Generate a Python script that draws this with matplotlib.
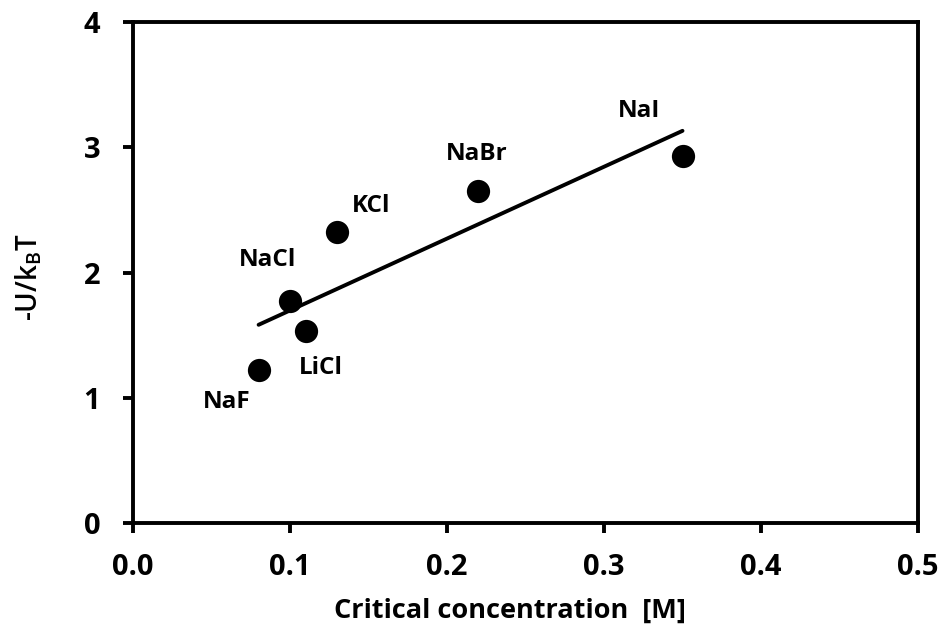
import numpy as np
import matplotlib
matplotlib.use("Agg")
import matplotlib.pyplot as plt

plt.rcParams['font.family'] = ['Open Sans', 'DejaVu Sans']

# Data
salts = ["NaF", "NaCl", "LiCl", "KCl", "NaBr", "NaI"]
conc = [0.08, 0.10, 0.11, 0.13, 0.22, 0.35]
energy = [1.22, 1.77, 1.53, 2.32, 2.65, 2.93]
x_ticks = [0.0, 0.1, 0.2, 0.3, 0.4, 0.5]
x_tick_labels = ["0.0", "0.1", "0.2", "0.3", "0.4", "0.5"]
y_ticks = [0, 1, 2, 3, 4]
y_tick_labels = ["0", "1", "2", "3", "4"]

# label offsets in pixels (dx, dy), up positive
label_offsets = [(-32, -32), (-22, 41), (15, -37), (34, 26), (-2, 37), (-43, 45)]

fig = plt.figure(figsize=(9.43, 6.30), dpi=100)
ax = fig.add_axes([133/943, 1-523/630, (918-133)/943, (523-22)/630])

# linear fit line over the data range
slope, intercept = np.polyfit(conc, energy, 1)
xf = np.array([min(conc), max(conc)])
ax.plot(xf, slope*xf + intercept, color='black', lw=2.8, solid_capstyle='round', zorder=2)

ax.scatter(conc, energy, s=280, color='black', zorder=3, linewidths=0)

for name, x, y, (dx, dy) in zip(salts, conc, energy, label_offsets):
    ax.annotate(name, (x, y), xytext=(dx, dy), textcoords='offset pixels',
                ha='center', va='center', fontsize=17.5, fontweight='bold')

ax.set_xlim(0, 0.5)
ax.set_ylim(0, 4)
ax.set_xticks(x_ticks)
ax.set_xticklabels(x_tick_labels)
ax.set_yticks(y_ticks)
ax.set_yticklabels(y_tick_labels)

for sp in ax.spines.values():
    sp.set_linewidth(2.8)
    sp.set_color('black')

ax.tick_params(axis='both', direction='out', length=7.5, width=2.8, labelsize=21)
ax.tick_params(axis='x', pad=14)
ax.tick_params(axis='y', pad=16)
for lab in ax.get_xticklabels() + ax.get_yticklabels():
    lab.set_fontweight('bold')

ax.set_xlabel("Critical concentration  [M]", fontsize=19.5, fontweight='bold')
ax.xaxis.set_label_coords((510-133)/785, (523-611)/501)
ax.xaxis.label.set_va('center')

ax.set_ylabel(r"-U/k$_\mathregular{B}$T", fontsize=20, fontweight='semibold')
ax.yaxis.set_label_coords((29-133)/785, 0.49)
ax.yaxis.label.set_va('center')

fig.savefig("out.png", dpi=100, facecolor='white')
